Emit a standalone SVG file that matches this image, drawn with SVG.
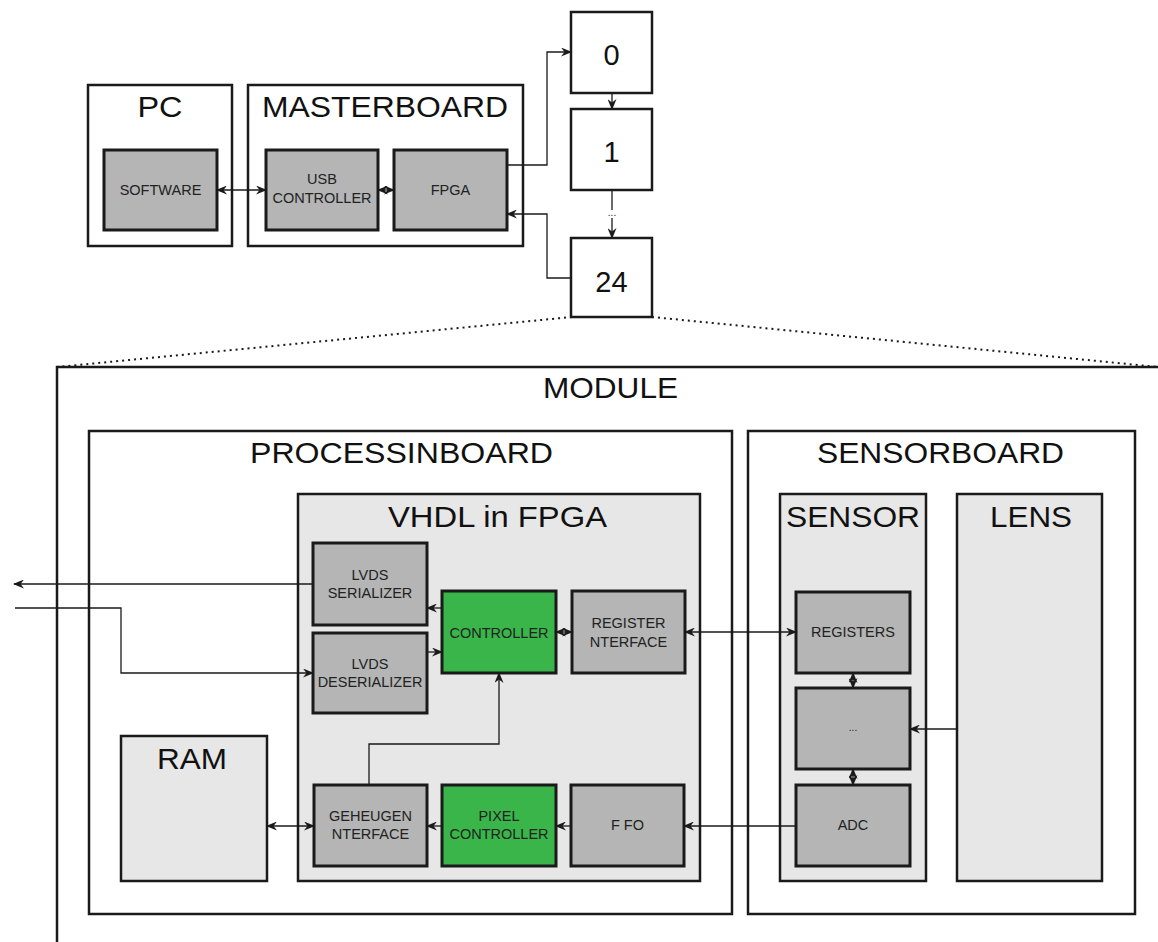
<svg xmlns="http://www.w3.org/2000/svg" width="1158" height="942" viewBox="0 0 1158 942">
<style>
.frame{fill:#fff;stroke:#1a1a1a;stroke-width:2.5}
.light{fill:#e6e7e6;stroke:#1a1a1a;stroke-width:2.5}
.grey{fill:#b4b5b4;stroke:#1a1a1a;stroke-width:3}
.green{fill:#39b54a;stroke:#1a1a1a;stroke-width:3}
.big{font-family:"Liberation Sans",Arial,sans-serif;font-size:29px;fill:#111;text-anchor:middle}
.small{font-family:"Liberation Sans",Arial,sans-serif;font-size:14.5px;fill:#222;text-anchor:middle}
.tiny{font-family:"Liberation Sans",Arial,sans-serif;font-size:10px;fill:#222;text-anchor:middle}
.conn{fill:none;stroke:#1a1a1a;stroke-width:1.3}
.dot{fill:none;stroke:#1a1a1a;stroke-width:2;stroke-dasharray:2 4}
</style>
<defs>
<marker id="ah" viewBox="0 0 11 9" refX="10" refY="4.5" markerWidth="11" markerHeight="9" markerUnits="userSpaceOnUse" orient="auto-start-reverse">
<path d="M0,0 L11,4.5 L0,9 L3.5,4.5 z" fill="#1a1a1a"/>
</marker>
</defs>

<g id="pc">
<rect class="frame" x="88" y="85" width="144" height="161"/>
<text class="big" x="160" y="117" textLength="45" lengthAdjust="spacingAndGlyphs">PC</text>
</g>
<g id="software">
<rect class="grey" x="104" y="150" width="113" height="80"/>
<text class="small" x="160.5" y="195">SOFTWARE</text>
</g>
<g id="masterboard">
<rect class="frame" x="248" y="85" width="275" height="161"/>
<text class="big" x="385" y="117" textLength="246" lengthAdjust="spacingAndGlyphs">MASTERBOARD</text>
</g>
<g id="usb">
<rect class="grey" x="266" y="150" width="112" height="80"/>
<text class="small" x="322" y="184">USB</text>
<text class="small" x="322" y="203">CONTROLLER</text>
</g>
<g id="fpga">
<rect class="grey" x="394" y="150" width="113" height="80"/>
<text class="small" x="450.5" y="195">FPGA</text>
</g>
<g id="mod0">
<rect class="frame" x="571" y="12" width="81" height="81"/>
<text class="big" x="611.5" y="65">0</text>
</g>
<g id="mod1">
<rect class="frame" x="571" y="109" width="81" height="81"/>
<text class="big" x="611.5" y="162">1</text>
</g>
<g id="mod24">
<rect class="frame" x="571" y="238" width="81" height="79"/>
<text class="big" x="611.5" y="292">24</text>
</g>
<text class="tiny" x="612" y="216">...</text>

<g id="module">
<path d="M57,942 V367 H1158" fill="none" stroke="#1a1a1a" stroke-width="2.5"/>
<text class="big" x="610.5" y="398" textLength="135" lengthAdjust="spacingAndGlyphs">MODULE</text>
</g>
<g id="processinboard">
<rect class="frame" x="89" y="431" width="643" height="483"/>
<text class="big" x="401.5" y="463" textLength="303" lengthAdjust="spacingAndGlyphs">PROCESSINBOARD</text>
</g>
<g id="sensorboard">
<rect class="frame" x="748" y="431" width="387" height="483"/>
<text class="big" x="940.5" y="463" textLength="247" lengthAdjust="spacingAndGlyphs">SENSORBOARD</text>
</g>
<g id="vhdl">
<rect class="light" x="298" y="494" width="402" height="387"/>
<text class="big" x="497.5" y="527" textLength="219" lengthAdjust="spacingAndGlyphs">VHDL in FPGA</text>
</g>
<g id="sensor">
<rect class="light" x="780" y="494" width="146" height="387"/>
<text class="big" x="853" y="527" textLength="134" lengthAdjust="spacingAndGlyphs">SENSOR</text>
</g>
<g id="lens">
<rect class="light" x="957" y="494" width="145" height="387"/>
<text class="big" x="1031" y="527" textLength="82" lengthAdjust="spacingAndGlyphs">LENS</text>
</g>
<g id="ram">
<rect class="light" x="121" y="736" width="146" height="145"/>
<text class="big" x="192" y="769" textLength="70" lengthAdjust="spacingAndGlyphs">RAM</text>
</g>
<g id="lvds-ser">
<rect class="grey" x="313" y="543" width="114" height="82"/>
<text class="small" x="370" y="580">LVDS</text>
<text class="small" x="370" y="598">SERIALIZER</text>
</g>
<g id="lvds-deser">
<rect class="grey" x="313" y="633" width="114" height="80"/>
<text class="small" x="370" y="669">LVDS</text>
<text class="small" x="370" y="687">DESERIALIZER</text>
</g>
<g id="controller">
<rect class="green" x="442" y="591" width="114" height="82"/>
<text class="small" x="499" y="638">CONTROLLER</text>
</g>
<g id="reginterface">
<rect class="grey" x="572" y="591" width="113" height="82"/>
<text class="small" x="628.5" y="628">REGISTER</text>
<text class="small" x="628.5" y="647">NTERFACE</text>
</g>
<g id="geheugen">
<rect class="grey" x="314" y="785" width="113" height="81"/>
<text class="small" x="370.5" y="821">GEHEUGEN</text>
<text class="small" x="370.5" y="839">NTERFACE</text>
</g>
<g id="pixelcontroller">
<rect class="green" x="442" y="785" width="114" height="81"/>
<text class="small" x="499" y="821">PIXEL</text>
<text class="small" x="499" y="839">CONTROLLER</text>
</g>
<g id="fifo">
<rect class="grey" x="571" y="785" width="113" height="81"/>
<text class="small" x="627.5" y="830">F FO</text>
</g>
<g id="registers">
<rect class="grey" x="796" y="592" width="114" height="81"/>
<text class="small" x="853" y="637">REGISTERS</text>
</g>
<g id="dots">
<rect class="grey" x="796" y="688" width="114" height="81"/>
<text class="tiny" x="853" y="731">...</text>
</g>
<g id="adc">
<rect class="grey" x="796" y="785" width="114" height="81"/>
<text class="small" x="853" y="830">ADC</text>
</g>

<g id="connectors">
<line class="dot" x1="572" y1="317" x2="57" y2="367"/>
<line class="dot" x1="652" y1="317" x2="1158" y2="367"/>
<line class="conn" x1="217" y1="190" x2="266" y2="190" marker-start="url(#ah)" marker-end="url(#ah)"/>
<line class="conn" x1="378" y1="190" x2="394" y2="190" marker-start="url(#ah)" marker-end="url(#ah)"/>
<path class="conn" d="M507,165 H547 V52 H571" marker-end="url(#ah)"/>
<line class="conn" x1="612" y1="93" x2="612" y2="109" marker-end="url(#ah)"/>
<line class="conn" x1="612" y1="190" x2="612" y2="210"/>
<line class="conn" x1="612" y1="218" x2="612" y2="238" marker-end="url(#ah)"/>
<path class="conn" d="M571,278 H547 V214 H507" marker-end="url(#ah)"/>
<line class="conn" x1="313" y1="584" x2="14" y2="584" marker-end="url(#ah)"/>
<path class="conn" d="M15,608 H121 V673 H313" marker-end="url(#ah)"/>
<line class="conn" x1="442" y1="608" x2="427" y2="608" marker-end="url(#ah)"/>
<line class="conn" x1="427" y1="652" x2="442" y2="652" marker-end="url(#ah)"/>
<line class="conn" x1="556" y1="632" x2="572" y2="632" marker-start="url(#ah)" marker-end="url(#ah)"/>
<line class="conn" x1="685" y1="632" x2="796" y2="632" marker-start="url(#ah)" marker-end="url(#ah)"/>
<path class="conn" d="M369,785 V744 H499 V673" marker-end="url(#ah)"/>
<line class="conn" x1="267" y1="826" x2="314" y2="826" marker-start="url(#ah)" marker-end="url(#ah)"/>
<line class="conn" x1="442" y1="826" x2="427" y2="826" marker-end="url(#ah)"/>
<line class="conn" x1="571" y1="826" x2="556" y2="826" marker-end="url(#ah)"/>
<line class="conn" x1="796" y1="826" x2="684" y2="826" marker-end="url(#ah)"/>
<line class="conn" x1="853" y1="673" x2="853" y2="688" marker-start="url(#ah)" marker-end="url(#ah)"/>
<line class="conn" x1="853" y1="769" x2="853" y2="785" marker-start="url(#ah)" marker-end="url(#ah)"/>
<line class="conn" x1="957" y1="729" x2="910" y2="729" marker-end="url(#ah)"/>
</g>
</svg>
